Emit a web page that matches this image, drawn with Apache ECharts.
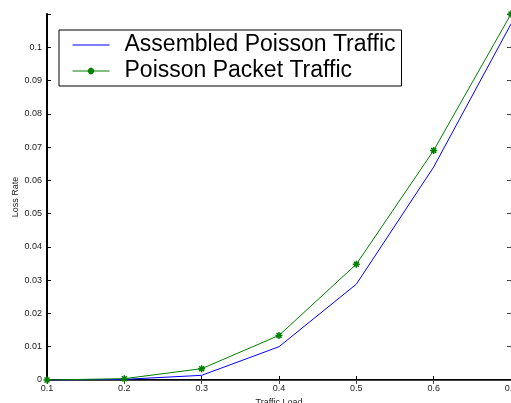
<!DOCTYPE html>
<html>
<head>
<meta charset="utf-8">
<script src="https://cdn.jsdelivr.net/npm/echarts@6/dist/echarts.min.js"></script>
<style>
  html, body { margin: 0; padding: 0; background: #fff; }
  #chart { width: 511px; height: 403px; }
</style>
</head>
<body>
<div id="chart"></div>
<script>
// traffic load on x, loss rate on y
const loads = [0.1, 0.2, 0.3, 0.4, 0.5, 0.6, 0.7];
const assembled = [0, 0.0002, 0.0014, 0.0100, 0.0288, 0.0640, 0.1070];
const packet = [0, 0.0004, 0.0034, 0.0134, 0.0348, 0.0690, 0.1100];
const seriesNames = ['Assembled Poisson Traffic', 'Poisson Packet Traffic'];

const asterisk = 'path://M0,-10L0,10M-10,0L10,0M-7,-7L7,7M-7,7L7,-7';
const font = 'Liberation Sans, Arial, sans-serif';

const chart = echarts.init(document.getElementById('chart'));
const tickLabel = { fontFamily: font, fontSize: 9, color: '#222' };

chart.setOption({
    animation: false,
    grid: { left: 47, right: 0, top: 14, bottom: 23, outerBoundsMode: 'none' },
    legend: {
        left: 59, top: 30,
        orient: 'vertical',
        backgroundColor: '#fff',
        borderColor: '#000', borderWidth: 1,
        padding: [3, 6, 3, 13],
        itemGap: 2,
        itemWidth: 37, itemHeight: 8,
        lineStyle: { width: 1 },
        textStyle: { fontFamily: font, fontSize: 23, lineHeight: 24, color: '#000', padding: [0, 0, 0, 10] },
        data: [
            { name: seriesNames[0], itemStyle: { opacity: 0 } },
            { name: seriesNames[1] }
        ]
    },
    xAxis: [{
        type: 'value', min: 0.1, max: 0.7, interval: 0.1,
        name: 'Traffic Load', nameLocation: 'middle', nameGap: 18,
        nameTextStyle: { fontFamily: font, fontSize: 9, color: '#222' },
        axisLine: { lineStyle: { color: '#000', width: 2 } },
        axisTick: { inside: true, length: 4, lineStyle: { color: '#000' } },
        axisLabel: Object.assign({ margin: 4, formatter: v => +v.toFixed(1) + '' }, tickLabel),
        splitLine: { show: false }
    }, {
        type: 'value', position: 'top', min: 0.1, max: 0.7, interval: 0.1,
        axisLine: { lineStyle: { color: '#444', width: 1 } },
        axisTick: { inside: true, length: 4, lineStyle: { color: '#444' } },
        axisLabel: { show: false },
        splitLine: { show: false }
    }],
    yAxis: [{
        type: 'value', min: 0, max: 0.11, interval: 0.01,
        name: 'Loss Rate', nameLocation: 'middle', nameGap: 27, nameMoveOverlap: false,
        nameTextStyle: { fontFamily: font, fontSize: 9, color: '#222' },
        axisLine: { lineStyle: { color: '#000', width: 2 } },
        axisTick: { inside: true, length: 4, lineStyle: { color: '#000' } },
        axisLabel: Object.assign({ margin: 5, formatter: v => v > 0.105 ? '' : +v.toFixed(2) + '' }, tickLabel),
        splitLine: { show: false }
    }, {
        type: 'value', position: 'right', min: 0, max: 0.11, interval: 0.01,
        axisLine: { show: true, lineStyle: { color: '#444', width: 1 } },
        axisTick: { inside: true, length: 4, lineStyle: { color: '#444' } },
        axisLabel: { show: false },
        splitLine: { show: false }
    }],
    series: [{
        name: seriesNames[0],
        type: 'line',
        data: loads.map((x, i) => [x, assembled[i]]),
        showSymbol: false, symbol: 'none',
        lineStyle: { color: '#0000ff', width: 1 },
        itemStyle: { color: '#0000ff' }
    }, {
        name: seriesNames[1],
        type: 'line',
        data: loads.map((x, i) => [x, packet[i]]),
        symbol: asterisk, symbolSize: 7,
        lineStyle: { color: '#008000', width: 1 },
        itemStyle: { color: '#008000', borderColor: '#008000', borderWidth: 1.5 }
    }]
});
</script>
</body>
</html>
